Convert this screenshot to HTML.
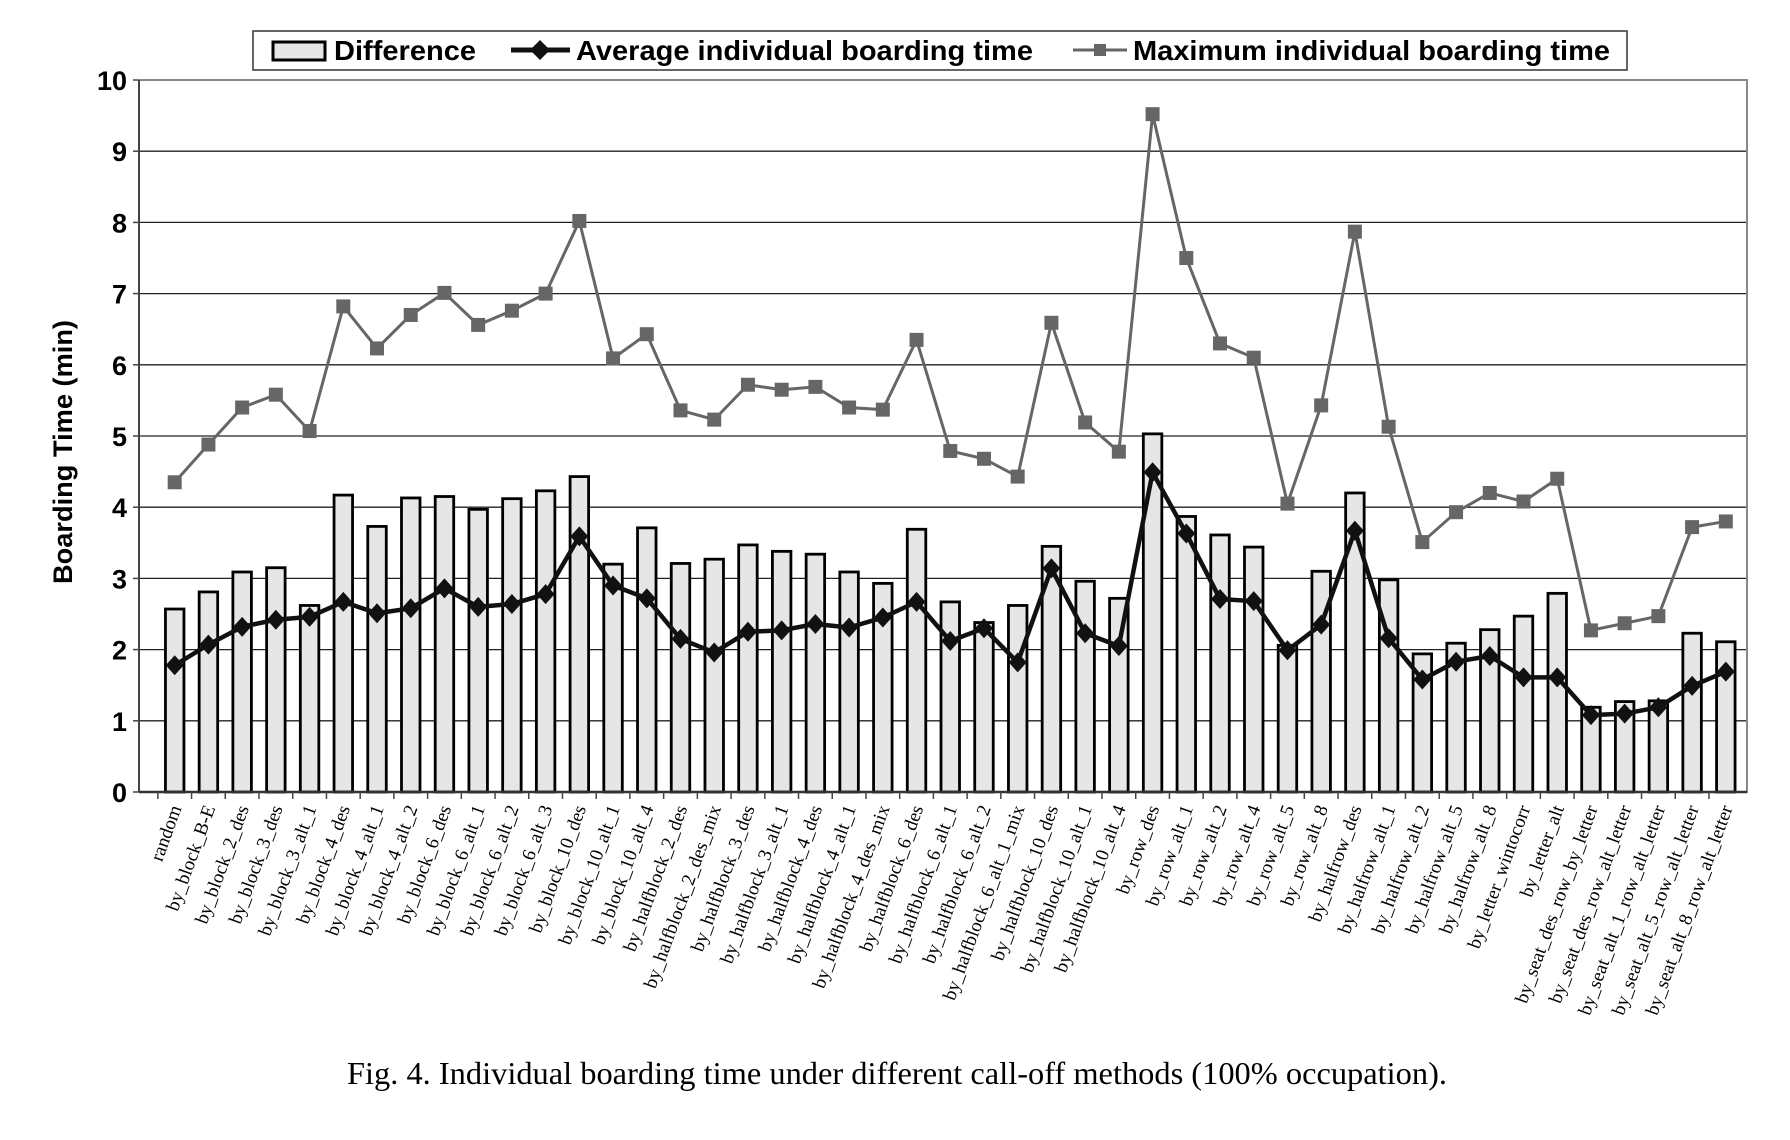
<!DOCTYPE html>
<html><head><meta charset="utf-8"><style>
html,body{margin:0;padding:0;background:#fff;}
svg{display:block;}
</style></head><body>
<svg id="chart" width="1790" height="1140" viewBox="0 0 1790 1140" xmlns="http://www.w3.org/2000/svg">
<rect x="0" y="0" width="1790" height="1140" fill="#fff"/>
<g id="grid"></g>
<g id="bars"></g>
<g id="maxg"></g>
<g id="avgg"></g>
<g id="axes"></g>
<g id="xlabels"></g>
<text x="0" y="0" transform="translate(72,452) rotate(-90)" text-anchor="middle" font-family="Liberation Sans, sans-serif" font-weight="bold" font-size="27" textLength="264" lengthAdjust="spacingAndGlyphs">Boarding Time (min)</text>
<g>
<rect x="253" y="31" width="1374" height="39" fill="#fff" stroke="#333" stroke-width="1.5"/>
<g>
<rect x="273" y="42" width="52" height="18" fill="#e6e6e6" stroke="#000" stroke-width="3"/>
<text x="334" y="60" font-family="Liberation Sans, sans-serif" font-weight="bold" font-size="28" textLength="142" lengthAdjust="spacingAndGlyphs">Difference</text>
</g>
<g>
<line x1="511" y1="50" x2="570" y2="50" stroke="#111" stroke-width="5"/>
<polygon points="540,40 550,50 540,60 530,50" fill="#111"/>
<text x="576" y="60" font-family="Liberation Sans, sans-serif" font-weight="bold" font-size="28" textLength="457" lengthAdjust="spacingAndGlyphs">Average individual boarding time</text>
</g>
<g>
<line x1="1073" y1="50" x2="1127" y2="50" stroke="#666" stroke-width="3"/>
<rect x="1094" y="44" width="12" height="12" fill="#666"/>
<text x="1133" y="60" font-family="Liberation Sans, sans-serif" font-weight="bold" font-size="28" textLength="477" lengthAdjust="spacingAndGlyphs">Maximum individual boarding time</text>
</g>
</g>
<text x="897" y="1084" text-anchor="middle" font-family="Liberation Serif, serif" font-size="32" textLength="1100" lengthAdjust="spacingAndGlyphs">Fig.  4. Individual boarding time under different call-off methods (100% occupation).</text>
</svg>
<script>
const categories = ["random","by_block_B-E","by_block_2_des","by_block_3_des","by_block_3_alt_1","by_block_4_des","by_block_4_alt_1","by_block_4_alt_2","by_block_6_des","by_block_6_alt_1","by_block_6_alt_2","by_block_6_alt_3","by_block_10_des","by_block_10_alt_1","by_block_10_alt_4","by_halfblock_2_des","by_halfblock_2_des_mix","by_halfblock_3_des","by_halfblock_3_alt_1","by_halfblock_4_des","by_halfblock_4_alt_1","by_halfblock_4_des_mix","by_halfblock_6_des","by_halfblock_6_alt_1","by_halfblock_6_alt_2","by_halfblock_6_alt_1_mix","by_halfblock_10_des","by_halfblock_10_alt_1","by_halfblock_10_alt_4","by_row_des","by_row_alt_1","by_row_alt_2","by_row_alt_4","by_row_alt_5","by_row_alt_8","by_halfrow_des","by_halfrow_alt_1","by_halfrow_alt_2","by_halfrow_alt_5","by_halfrow_alt_8","by_letter_wintocorr","by_letter_alt","by_seat_des_row_by_letter","by_seat_des_row_alt_letter","by_seat_alt_1_row_alt_letter","by_seat_alt_5_row_alt_letter","by_seat_alt_8_row_alt_letter"];
const maxValues = [4.35,4.88,5.4,5.58,5.07,6.82,6.23,6.7,7.01,6.56,6.76,7.0,8.02,6.09,6.43,5.36,5.23,5.72,5.65,5.69,5.4,5.37,6.35,4.79,4.68,4.43,6.59,5.19,4.78,9.52,7.5,6.3,6.1,4.05,5.43,7.87,5.13,3.51,3.93,4.2,4.08,4.4,2.27,2.37,2.47,3.72,3.8];
const avgValues = [1.78,2.07,2.32,2.42,2.46,2.67,2.51,2.58,2.86,2.6,2.64,2.78,3.59,2.9,2.72,2.15,1.96,2.25,2.27,2.36,2.31,2.45,2.67,2.12,2.3,1.82,3.14,2.23,2.05,4.49,3.63,2.71,2.68,1.99,2.35,3.67,2.16,1.58,1.83,1.91,1.61,1.61,1.08,1.1,1.19,1.49,1.69];
const diffValues = [2.57,2.81,3.09,3.15,2.62,4.17,3.73,4.13,4.15,3.97,4.12,4.23,4.43,3.2,3.71,3.21,3.27,3.47,3.38,3.34,3.09,2.93,3.69,2.67,2.38,2.62,3.45,2.96,2.72,5.03,3.87,3.61,3.44,2.06,3.1,4.2,2.98,1.94,2.09,2.28,2.47,2.79,1.19,1.27,1.28,2.23,2.11];
const yTicks = [0,1,2,3,4,5,6,7,8,9,10];

const NS = "http://www.w3.org/2000/svg";
const PL = 139, PR = 1747, PT = 80, PB = 792;
const band = 33.72, X0 = 174.7;
function xPos(i){ return X0 + band*i; }
function yPos(v){ return PB - (v/10)*(PB-PT); }
function mk(tag, attrs, parent){ const e=document.createElementNS(NS,tag); for(const k in attrs) e.setAttribute(k,attrs[k]); parent.appendChild(e); return e; }

const grid=document.getElementById('grid'), axes=document.getElementById('axes');
yTicks.forEach(t=>{
  if(t>0 && t<10){
    const l=mk('line',{x1:PL,x2:PR,y1:yPos(t),y2:yPos(t),stroke:'#222','stroke-width':1.3},grid);
    
    
  }
  const tk=mk('line',{x1:PL-6,x2:PL,y1:yPos(t),y2:yPos(t),stroke:'#444','stroke-width':1.5},axes);
  
  
  const tx=mk('text',{x:PL-12,y:yPos(t)+10,'text-anchor':'end','font-family':'Liberation Sans, sans-serif','font-weight':'bold','font-size':27},axes);
  tx.textContent=t;
  
  
});
const frame=mk('rect',{x:PL,y:PT,width:PR-PL,height:PB-PT,fill:'none',stroke:'#888','stroke-width':2},axes);


const yax=mk('line',{x1:PL,x2:PL,y1:PT,y2:PB,stroke:'#444','stroke-width':2},axes);


const xax=mk('line',{x1:PL,x2:PR,y1:PB,y2:PB,stroke:'#333','stroke-width':2.5},axes);



const bars=document.getElementById('bars');
const bw=18.5;
diffValues.forEach((v,i)=>{
  const r=mk('rect',{x:xPos(i)-bw/2,y:yPos(v),width:bw,height:PB-yPos(v),fill:'#e6e6e6',stroke:'#000','stroke-width':2.8},bars);
  
  
});
const xl=document.getElementById('xlabels');
categories.forEach((c,i)=>{
  const tx=xPos(i)-band/2;
  const tk=mk('line',{x1:tx,x2:tx,y1:PB,y2:PB+7,stroke:'#444','stroke-width':1.5},axes);
  
  
  const x=xPos(i)+7, y=PB+16;
  const t=mk('text',{x:0,y:0,transform:`translate(${x},${y}) rotate(-70)`,'text-anchor':'end','font-family':'Liberation Serif, serif','font-size':19},xl);
  t.textContent=c;
  
  
});

const maxg=document.getElementById('maxg');
const mp=mk('polyline',{points:maxValues.map((v,i)=>xPos(i)+','+yPos(v)).join(' '),fill:'none',stroke:'#666','stroke-width':3},maxg);


maxValues.forEach((v,i)=>{
  const s=mk('rect',{x:xPos(i)-7,y:yPos(v)-7,width:14,height:14,fill:'#666'},maxg);
  
  
});
const avgg=document.getElementById('avgg');
const ap=mk('polyline',{points:avgValues.map((v,i)=>xPos(i)+','+yPos(v)).join(' '),fill:'none',stroke:'#111','stroke-width':4.5,'stroke-linejoin':'round'},avgg);


avgValues.forEach((v,i)=>{
  const cx=xPos(i), cy=yPos(v);
  const d=mk('polygon',{points:`${cx},${cy-10} ${cx+9},${cy} ${cx},${cy+10} ${cx-9},${cy}`,fill:'#111'},avgg);
  
  
});
</script>
</body></html>
